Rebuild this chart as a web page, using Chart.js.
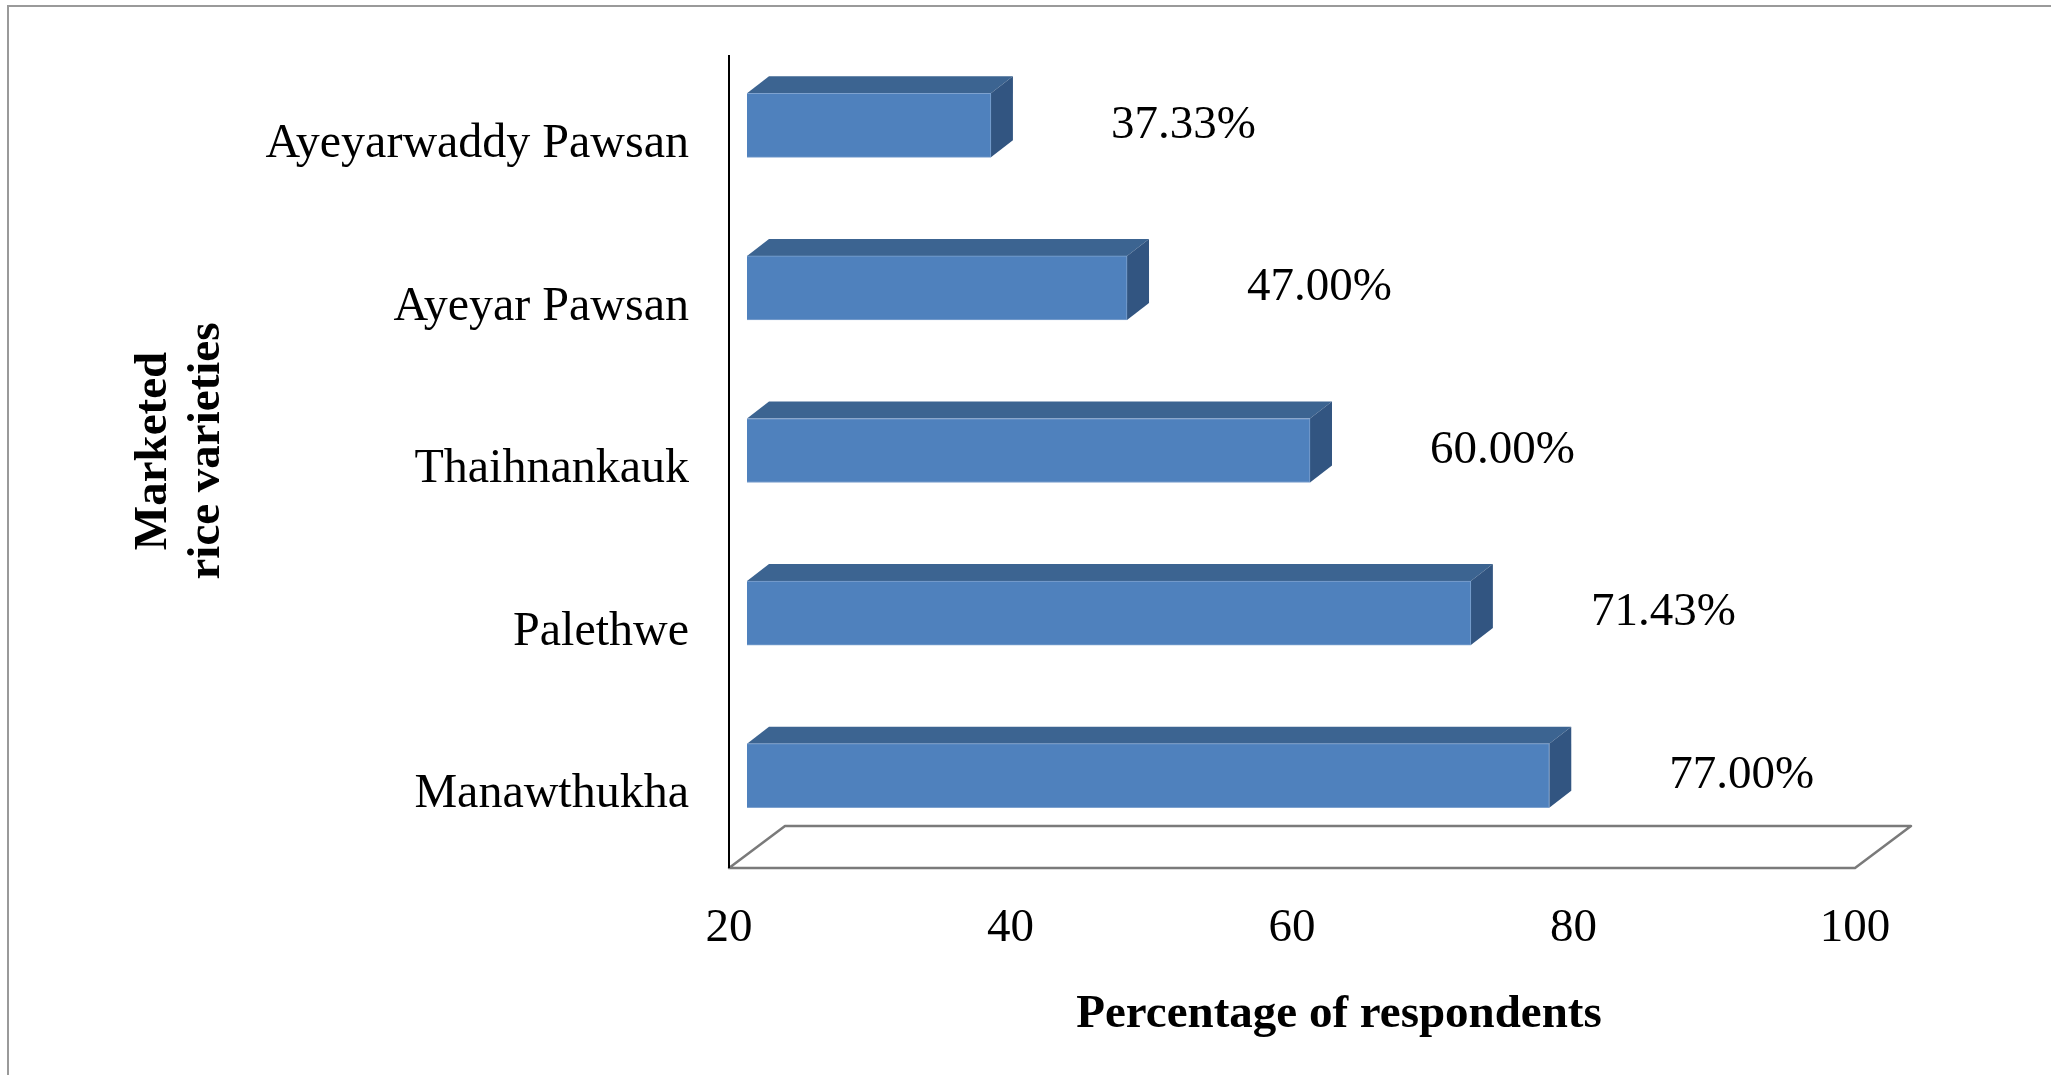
<!DOCTYPE html>
<html>
<head>
<meta charset="utf-8">
<title>Marketed rice varieties</title>
<script src="https://cdn.jsdelivr.net/npm/chart.js@4.4.0/dist/chart.umd.min.js"></script>
<style>
    html, body { margin: 0; padding: 0; background: #fff; }
    #wrap { position: relative; width: 2051px; height: 1075px; overflow: hidden; }
    #frame { position: absolute; left: 7px; top: 5px; right: 0; bottom: 0;
             border-left: 2px solid #9a9a9a; border-top: 2px solid #9a9a9a; }
    canvas { position: absolute; left: 0; top: 0; }
</style>
</head>
<body>
<div id="wrap">
    <div id="frame"></div>
    <canvas id="myChart" width="2051" height="1075"></canvas>
</div>
<script>
const varieties = ['Ayeyarwaddy Pawsan', 'Ayeyar Pawsan', 'Thaihnankauk', 'Palethwe', 'Manawthukha'];
const respondents = [37.33, 47.00, 60.00, 71.43, 77.00];
const xTicks = [20, 40, 60, 80, 100];

const serif = "'Liberation Serif', 'Times New Roman', serif";

// fake 3d: front face is pushed a bit into the floor, then top/side faces behind it
const front = { x: 18, y: -11 };
const depth = { x: 22, y: -17 };
const floorDepth = { x: 56, y: -42 };

const box3d = {
    id: 'box3d',
    beforeDatasetsDraw(chart) {
        const ctx = chart.ctx;
        const area = chart.chartArea;

        ctx.save();
        // floor
        ctx.beginPath();
        ctx.moveTo(area.left, area.bottom);
        ctx.lineTo(area.right, area.bottom);
        ctx.lineTo(area.right + floorDepth.x, area.bottom + floorDepth.y);
        ctx.lineTo(area.left + floorDepth.x, area.bottom + floorDepth.y);
        ctx.closePath();
        ctx.fillStyle = '#ffffff';
        ctx.fill();
        ctx.strokeStyle = '#7a7a7a';
        ctx.lineWidth = 2.5;
        ctx.lineJoin = 'round';
        ctx.stroke();

        // category axis line
        ctx.beginPath();
        ctx.moveTo(area.left, area.top);
        ctx.lineTo(area.left, area.bottom);
        ctx.strokeStyle = '#000000';
        ctx.lineWidth = 2;
        ctx.stroke();

        // top and side faces of each bar
        chart.getDatasetMeta(0).data.forEach(bar => {
            const p = bar.getProps(['x', 'y', 'base', 'height'], true);
            const x0 = Math.max(p.base, area.left) + front.x;
            const x1 = p.x + front.x;
            const y0 = p.y - p.height / 2 + front.y;
            const y1 = p.y + p.height / 2 + front.y;

            ctx.beginPath();
            ctx.moveTo(x0, y0);
            ctx.lineTo(x1, y0);
            ctx.lineTo(x1 + depth.x, y0 + depth.y);
            ctx.lineTo(x0 + depth.x, y0 + depth.y);
            ctx.closePath();
            ctx.fillStyle = '#3c6491';
            ctx.fill();

            ctx.beginPath();
            ctx.moveTo(x1, y0);
            ctx.lineTo(x1 + depth.x, y0 + depth.y);
            ctx.lineTo(x1 + depth.x, y1 + depth.y);
            ctx.lineTo(x1, y1);
            ctx.closePath();
            ctx.fillStyle = '#325581';
            ctx.fill();
        });
        ctx.restore();

        // the front face itself is drawn by chart.js, shifted
        ctx.save();
        ctx.translate(front.x, front.y);
    },
    afterDatasetsDraw(chart) {
        const ctx = chart.ctx;
        ctx.restore();

        ctx.save();
        ctx.fillStyle = '#000000';
        ctx.font = '47px ' + serif;
        ctx.textAlign = 'left';
        ctx.textBaseline = 'middle';
        chart.getDatasetMeta(0).data.forEach((bar, i) => {
            const p = bar.getProps(['x', 'y'], true);
            ctx.fillText(respondents[i].toFixed(2) + '%', p.x + front.x + 120, p.y + front.y);
        });

        // axis titles
        ctx.font = 'bold 47px ' + serif;
        ctx.textAlign = 'center';
        ctx.fillText('Percentage of respondents', 1339, 1015);

        ctx.translate(154, 451);
        ctx.rotate(-Math.PI / 2);
        ctx.fillText('Marketed', 0, 0);
        ctx.fillText('rice varieties', 0, 53);
        ctx.restore();
    }
};

const ctx = document.getElementById('myChart');

new Chart(ctx, {
    type: 'bar',
    data: {
        labels: varieties,
        datasets: [{
            label: 'Percentage of respondents',
            data: respondents,
            base: xTicks[0],
            backgroundColor: '#4f81bd',
            borderColor: '#7ea2cf',
            borderWidth: 1,
            barThickness: 64
        }]
    },
    options: {
        indexAxis: 'y',
        responsive: false,
        animation: false,
        layout: {
            padding: { top: 55, right: 196, bottom: 0, left: 0 }
        },
        plugins: {
            legend: { display: false },
            tooltip: { enabled: false }
        },
        scales: {
            x: {
                min: 20,
                max: 100,
                afterBuildTicks: scale => {
                    scale.ticks = xTicks.map(v => ({ value: v }));
                },
                afterFit: scale => {
                    scale.height = 207;
                    scale.paddingLeft = 0;
                    scale.paddingRight = 0;
                },
                grid: { display: false, drawTicks: false },
                border: { display: false },
                ticks: {
                    padding: 32,
                    color: '#000000',
                    font: { family: serif, size: 47 }
                }
            },
            y: {
                afterFit: scale => {
                    scale.width = 729;
                    scale.paddingTop = 0;
                    scale.paddingBottom = 0;
                },
                grid: { display: false, drawTicks: false },
                border: { display: false },
                ticks: {
                    padding: 40,
                    labelOffset: 8,
                    color: '#000000',
                    font: { family: serif, size: 48 }
                }
            }
        }
    },
    plugins: [box3d]
});
</script>
</body>
</html>
